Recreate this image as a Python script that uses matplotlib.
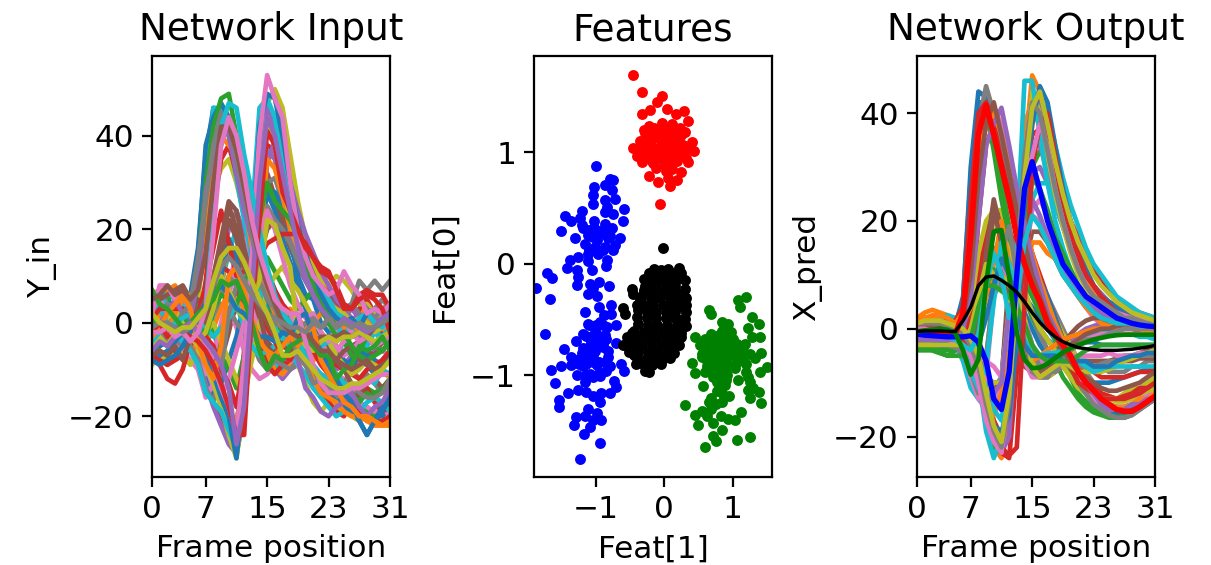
import matplotlib
matplotlib.use("Agg")
import matplotlib.pyplot as plt

plt.rcParams["axes.linewidth"] = 0.72

# Frame positions
frames = list(range(32))
frame_ticks = [0, 7, 15, 23, 31]

# Network input, the lines underneath
y_in_under = [
    [6,7,5,3,4,6,16,36,46,44,42,34,27,20,14,9,5,2,0,-3,-6,-10,-13,-14,-16,-17,-17,-19,-18,-20,-20,-18],
    [-8,-6,-9,-7,-5,-4,-6,-9,-13,-18,-23,-25,-12,14,35,42,44,38,29,22,17,12,9,7,5,3,4,2,3,1,3,2],
    [-1,3,5,6,3,2,6,18,32,38,44,40,33,26,18,11,7,3,0,-4,-7,-9,-12,-17,-19,-18,-16,-17,-19,-20,-19,-17],
    [0,-3,-5,-2,-3,-6,-8,-12,-17,-21,-25,-23,-6,20,33,38,37,31,25,20,15,13,10,8,4,1,-1,3,5,2,-1,-2],
    [3,-1,-3,-2,1,-2,-6,-2,5,13,20,24,19,10,1,-6,-10,-12,-10,-9,-6,-7,-5,-8,-10,-9,-7,-5,-8,-6,-4,-5],
    [-7,-5,-3,0,-2,-1,-4,-7,-11,-8,-2,5,12,20,28,32,27,21,16,12,9,6,3,2,-1,-3,-5,-4,-6,-7,-4,-2],
    [-5,-8,-7,-6,-4,-6,-9,-13,-10,-3,3,-1,-6,-10,-12,-11,-9,-11,-8,-7,-9,-7,-6,-9,-11,-12,-14,-17,-18,-19,-18,-20],
    [5,7,4,1,-1,-3,-5,-8,-10,-15,-20,-22,-9,8,24,30,31,26,22,18,13,7,5,3,0,2,4,2,0,3,5,3],
    [-9,-7,-8,-6,-4,-1,5,20,28,33,35,30,23,16,9,5,0,-4,-7,-9,-13,-17,-19,-17,-18,-19,-20,-21,-20,-21,-22,-21],
    [0,4,7,5,3,1,-1,-4,-2,8,15,20,14,7,0,-4,-9,-10,-9,-7,-4,-4,-7,-10,-7,-4,-2,-3,-5,-2,-4,-3],
    [2,0,-2,-4,-3,-4,-6,-11,-15,-13,-8,-3,4,10,20,27,28,25,18,10,6,5,0,-2,-5,-8,-10,-7,-9,-11,-8,-6],
    [6,7,7,8,5,3,0,1,2,8,18,12,5,2,-2,-7,-10,-11,-9,-8,-9,-8,-7,-6,-4,-2,-1,-3,-2,1,2,4],
    [-4,-6,-7,-5,-2,1,8,25,37,43,41,34,25,18,10,4,0,-2,-5,-6,-8,-10,-11,-12,-11,-13,-15,-16,-14,-15,-14,-12],
    [-3,-2,-5,-6,-4,0,3,5,8,12,11,8,6,3,-5,-9,-11,-9,-8,-5,-7,-11,-15,-17,-19,-20,-17,-15,-14,-17,-19,-18],
    [-6,-3,-2,-4,-5,-4,-7,-13,-18,-22,-26,-28,-20,4,26,37,35,28,19,13,9,6,3,2,-1,0,-1,-3,-2,0,-2,-3],
    [1,4,2,0,1,-2,-3,-5,-8,-6,0,3,6,9,14,20,22,23,20,17,14,12,8,6,3,0,-2,0,1,-1,-2,1],
    [-2,-4,-3,-5,-6,-8,-10,-16,-13,-4,9,14,18,10,2,-4,-6,-7,-8,-9,-7,-5,-6,-4,-5,-7,-6,-4,-3,-5,-6,-7],
    [4,2,0,-3,-5,-4,-2,0,2,4,3,0,-2,-4,-8,-10,-8,-9,-10,-8,-6,-10,-12,-14,-16,-13,-10,-12,-11,-13,-15,-13],
    [-3,1,3,4,2,0,-2,-6,-10,-14,-19,-26,-12,18,44,47,50,46,36,26,18,13,9,8,10,9,7,4,4,2,1,3],
    [2,5,4,3,4,3,10,30,46,46,40,31,22,14,7,2,-1,-4,-6,-9,-11,-14,-16,-18,-20,-19,-18,-19,-17,-16,-17,-19],
    [-1,-3,-1,2,3,1,-2,-5,3,10,18,14,10,16,24,28,24,18,13,8,3,-1,-4,-5,-7,-9,-8,-6,-7,-8,-9,-6],
    [-4,-5,-2,0,-2,-3,-7,-4,-1,3,7,5,3,-1,-4,-2,0,1,3,1,-1,0,2,1,0,-2,-1,1,2,0,-1,-3],
    [3,0,1,4,5,6,4,1,-2,-7,-10,-14,-7,2,10,14,11,8,5,3,5,7,4,2,0,-4,-7,-6,-3,-5,-6,-4],
    [-6,-8,-9,-8,-7,-5,-1,9,24,35,38,32,26,22,16,11,7,4,2,0,-3,-6,-8,-9,-9,-10,-11,-12,-10,-9,-8,-6],
    [1,-1,0,2,0,-1,-3,-6,-11,-16,-21,-24,-19,-2,18,34,39,36,30,24,19,15,11,8,5,3,1,1,0,-1,0,1],
    [-5,-2,0,-1,1,3,5,3,6,16,22,18,10,4,-1,-4,-6,-4,-2,0,-3,-5,-4,-6,-8,-10,-13,-15,-13,-12,-14,-12],
    [7,5,2,-1,-4,-6,-8,-11,-7,0,6,12,9,3,-2,-3,1,3,2,-1,-3,-2,-4,-7,-6,-4,-3,-1,0,-2,-1,0],
    [-2,2,4,1,-1,0,1,2,4,6,10,8,12,16,20,25,22,20,17,13,10,9,7,4,2,1,3,5,3,1,3,4],
    [0,-2,-4,-5,-7,-9,-6,-2,0,-4,-8,-12,-16,-8,0,7,10,12,9,7,4,1,-2,-4,-7,-9,-11,-10,-8,-9,-10,-12],
    [-1,1,-1,1,3,2,0,-1,-3,-1,1,4,-1,-5,-7,-6,-5,-3,-5,-6,-5,-6,-5,-4,-2,-1,-2,-1,1,-2,-3,-1],
]

# Network input, the lines on top
y_in = [
    [-3,-5,-4,-2,-1,4,14,38,44,47,44,36,27,18,11,5,2,-1,-3,-6,-9,-11,-13,-15,-17,-18,-19,-21,-24,-21,-18,-16],
    [1,2,-1,3,1,0,-2,-5,-9,-14,-19,-21,-13,4,16,35,33,27,20,16,12,8,6,3,1,-1,0,-2,1,-1,0,2],
    [-6,-4,-2,-3,-1,3,12,30,42,48,49,40,30,22,15,9,5,2,-1,-5,-8,-10,-12,-13,-14,-16,-15,-17,-15,-16,-14,-15],
    [-6,-9,-12,-13,-10,-4,2,8,16,24,17,10,11,6,2,-1,-4,-7,-8,-5,-3,-6,-9,-11,-13,-15,-17,-19,-21,-21,-21,-20],
    [-2,-1,3,2,0,-2,-4,-8,-12,-17,-22,-27,-15,10,38,46,42,33,25,18,13,10,6,5,3,2,3,1,2,0,1,0],
    [4,5,6,7,8,5,2,0,6,14,25,20,12,8,4,0,-3,-5,-6,-5,-2,-4,-7,-9,-8,-6,-5,-8,-9,-10,-9,-8],
    [-2,1,3,2,-1,-3,-5,-9,-14,-16,-12,-6,0,8,18,24,20,14,8,4,1,2,-2,-4,-1,1,-2,-4,-3,-5,-4,-3],
    [0,2,1,-2,-3,-5,-8,-14,-17,-10,2,8,10,8,5,2,0,-1,-1,-2,0,1,-1,0,2,3,4,9,7,9,7,9],
    [2,-1,1,3,0,-3,-5,-9,-13,-18,-24,-29,-17,6,30,44,38,30,22,16,12,8,6,4,3,2,0,1,0,-2,-1,1],
    [-1,3,0,-2,-4,-6,-9,-15,-17,-19,-23,-27,-10,22,46,48,44,34,24,17,14,10,7,5,2,1,-1,1,2,0,-1,1],
    [-5,-7,-6,-4,-2,-1,-3,-6,-11,-16,-20,-29,-14,16,42,49,48,40,30,21,15,9,6,3,1,0,1,-1,2,3,2,2],
    [3,1,-2,2,5,6,8,16,34,40,38,36,26,16,10,6,2,-1,-4,-6,-8,-12,-15,-16,-17,-19,-20,-20,-21,-22,-22,-21],
    [1,-2,-4,-1,2,-1,0,-3,3,6,5,4,8,12,22,30,26,24,22,18,12,8,3,0,-3,-2,-5,-7,-8,-7,-6,-4],
    [1,3,3,3,3,2,-2,-3,-5,-10,-13,-18,-8,6,14,17,18,19,19,19,17,14,11,10,8,4,3,6,7,6,6,3],
    [-4,0,2,5,2,1,9,28,36,42,40,32,24,18,12,8,4,0,-3,-8,-14,-16,-19,-20,-18,-17,-15,-18,-20,-18,-17,-14],
    [-7,-6,-7,-5,-8,-3,2,5,10,18,26,24,16,9,2,-5,-7,-8,-6,-4,-4,-4,-3,-3,-3,-2,-3,-2,-3,-1,0,2],
    [2,8,8,5,7,2,-2,-5,-9,-14,-18,-24,-8,15,40,53,48,44,30,20,14,10,8,6,7,11,8,6,2,3,2,4],
    [-3,-2,-4,-1,2,4,14,26,38,45,43,35,28,19,9,5,3,-1,-2,-7,-9,-13,-12,-15,-14,-15,-13,-15,-16,-16,-15,-12],
    [-5,-3,-5,-2,-1,-2,-4,-2,3,10,7,3,1,5,9,22,21,16,12,-3,-5,-6,-4,-3,-4,-3,-3,-2,-3,-4,-3,-2],
    [-4,-2,-1,0,1,2,-3,4,22,42,47,46,36,28,20,12,6,2,0,-4,-7,-9,-11,-12,-11,-13,-14,-13,-12,-13,-10,-11],
    [-8,-9,-8,-7,-5,-2,1,4,6,8,6,3,2,0,-3,-3,-4,-2,-3,1,2,-3,-6,-9,-12,-15,-17,-21,-24,-21,-19,-16],
    [-3,-1,2,4,6,3,-4,-9,-12,-5,10,12,7,1,-4,-6,-7,-5,-3,-5,-2,-1,-8,-11,-14,-17,-18,-20,-20,-21,-22,-22],
    [7,4,3,1,-1,0,2,3,5,9,8,9,5,0,-6,-10,-7,-8,-5,-4,-3,-5,-7,-7,-12,-10,-9,-5,-6,-5,-3,-6],
    [-2,0,-3,-1,-2,-3,-4,-6,-9,-13,-18,-24,-24,3,22,41,38,28,24,20,16,14,12,11,7,3,3,5,6,5,3,-2],
    [-6,-4,-5,-3,-1,0,-2,-4,-6,-9,-14,-26,-18,6,30,44,40,32,24,16,10,6,3,1,-1,1,0,-1,-2,-1,1,2],
    [5,6,8,6,7,5,7,15,30,42,42,37,29,21,14,8,4,0,-2,-3,-2,-4,-6,-6,-8,-9,-10,-9,-8,-10,-11,-11],
    [-2,-2,-1,-3,-2,-4,-2,3,19,38,44,40,32,22,15,10,5,3,2,2,-4,-9,-13,-15,-15,-15,-14,-14,-13,-12,-11,-11],
    [-1,0,0,-1,-2,-1,1,3,8,12,14,12,9,6,4,2,1,0,-1,-1,-2,0,-1,1,-1,0,-1,0,-1,-1,0,1],
    [2,0,-1,-2,-1,-1,1,3,9,14,16,16,13,9,5,2,-2,-7,-7,-6,-8,-10,-12,-13,-14,-14,-13,-13,-12,-11,-10,-8],
]

# Network output, the lines underneath
x_pred_under = [
    [1,1,1,0.5,0.5,0.5,6,28,42,42,37,31,26,21,16,12,8,4,1,-2,-5,-8,-10,-12,-13,-14,-14.5,-14.5,-14,-13.5,-13,-12],
    [0,0.5,0.5,0.5,0,-1,-2,-4,-8,-16,-22,-24,-16,14,38,42,38,31,25,20,16,13,10,8,6,5,4,3,2.5,2,1.5,1],
    [-2,-2,-2.5,-2.5,-3,-2.5,1,20,34,40,35,27,19,12,6,2,-1,-4,-6,-9,-11,-13,-14.5,-15.5,-16,-16.5,-16.5,-16,-15.5,-14.5,-13.5,-12],
    [-1,-1,-1,-1,-1.5,-1.5,-2,-3,-6,-12,-17,-20,-13,6,26,36,37,33,28,24,20,17,14,11,9,7,5.5,4.5,3.5,3,2.5,2],
    [0,0,0,0,-0.5,-1,-2,-4,-7,-10,-11,-9,-2,10,22,29,30,27,23,19,15,12,9,7,5,4,3,2.5,2,1.5,1,1],
    [1,1,1,0.5,0.5,0,-1,0,5,13,18,19,12,3,-5,-8,-9,-9,-8,-7,-6,-6,-6,-6,-6,-6,-5.5,-5,-5,-4.5,-4,-4],
    [-1,-1,-1,-1,-1.5,-2,-4,-9,-13,-15,-14,-10,4,16,19,21,20,18,15,12,9,6,4,2,1,0,-0.5,-1,-1,-1,-1,-1],
    [0.5,0.5,1,1,1,1,5,24,36,38,36,33,28,23,18,14,9,6,3,0,-3,-6,-8,-10,-12,-13,-13,-13,-12.5,-12,-11,-10],
    [2,2,2,2,1.5,1,0,2,7,14,20,22,17,9,1,-5,-8,-9,-8,-6,-4,-2.5,-1,0,0.5,1,1,1,0.5,0.5,0,0],
    [-2,-2,-2,-2,-2,-3,-6,-11,-13,-14,-12,-9,6,8,6,3,0,-2,-3,-3,-3,-2,-1.5,-1,-0.5,-0.5,-0.5,-1,-1,-1.5,-1.5,-2],
    [0,0,0,0,0,-0.5,-1,1,7,14,15,13,10,7,3,0,-3,-5,-6,-7,-8,-9,-9.5,-10,-10,-10,-9.5,-9,-8.5,-8,-7.5,-7],
    [1,2,2,2,1.5,1.5,4,20,36,42,40,35,28,21,15,10,6,2,-1,-3,-6,-8,-10,-11,-12,-12.5,-13,-13,-12.5,-12,-11,-10],
    [-3,-3,-3,-3,-3,-3,-4,-6,-10,-17,-22,-23,-18,-5,16,30,33,32,27,22,17,13,10,8,6,4,3,2.5,2,1.5,1,1],
    [-1,-1,-1,-1,-1,-1,0,3,10,18,22,21,18,15,12,9,6,3,0,-2,-4,-6,-7,-8,-9,-9,-9,-9,-8.5,-8,-8,-7.5],
    [0,0,0,-0.5,-1,-1.5,-3,-6,-8,-6,6,10,10,7,2,-3,-6,-7,-6,-4,-2,-1,0,0.5,1,1.5,1.5,1,1,0.5,0.5,0],
    [-1,-1,-1.5,-1.5,-2,-2,-3,-2,2,6,9,9,8,8,12,18,18,16,13,10,8,6,4,3,2,1,0.5,0,0,-0.5,-0.5,-0.5],
    [1,1,1,1,0.5,0.5,0,0,4,9,13,13,10,6,2,-3,-6,-7,-7,-6,-4,-3,-2,-1.5,-1,-1,-1,-1,-1,-1,-1,-1],
    [-2,-2,-2,-2,-2,-2,-2,-1,3,7,8,8,6,3,-1,-4,-7,-8,-8,-7,-6,-6,-6,-7,-7,-8,-8,-8,-7,-7,-6,-6],
    [-1,-0.5,0,0,0,0,4,22,36,41,41,35,29,23,17,12,8,5,2,-1,-3,-6,-9,-11,-12,-13,-13.5,-13.5,-13,-13,-12,-11],
    [0,0,0,0,-0.5,-1,-1.5,-3,-7,-13,-18,-22,-10,14,34,40,43,40,34,28,23,19,15,12,10,8,6,5,4,3,2.5,2],
    [-3,-3,-3,-3.5,-3.5,-3.5,-4,-6,-9,-10,-11,-10,7,8,6,4,2,0,-2,-3,-3,-3,-2.5,-2.5,-3,-3,-3,-3,-3,-3,-3,-3],
    [0.5,1,1,0.5,0.5,0,-2,-6,-11,-15,-16,-12,-5,4,10,16,16,14,13,11,8,6,4,2.5,1,0.5,0,0,0,0,0,0],
    [1,1,1,1,1,1,3,18,33,38,36,30,24,18,13,9,5,2,-2,-6,-9,-12,-13.5,-15,-15.5,-16,-16,-15.5,-15,-14,-13,-12],
    [-1,-1,-1,-1,-1,-1,-1,2,20,34,38,36,31,25,19,14,10,6,2,-2,-5,-7,-9,-10.5,-12,-12.5,-13,-13,-12.5,-12,-11,-10],
    [2,2,2,1.5,1,1,0,-2,-5,-9,-10,-10,4,12,22,34,34,29,24,20,16,13,11,8,6.5,5,4,3,2,2,1.5,1],
    [-1.5,-1.5,-1.5,-1.5,-1.5,-2,-3,-6,-10,-12,-11,-10,10,9,6,3,0,-2,-4,-5,-6,-6,-6,-6,-6,-6,-6,-6,-6,-5.5,-5.5,-5.5],
    [0,0,0,0,0,0,-0.5,-2,-4,-6,-7,-9,3,7,12,22,24,21,17,13,10,8,6,4.5,3,2,1.5,1,1,0.5,0.5,0.5],
    [-0.5,-0.5,-0.5,-0.5,-1,-1,-1.5,-3,-4,-5,6,10,13,11,7,3,-1,-4,-6,-7,-7,-7,-7,-7,-6.5,-6,-6,-5.5,-5,-5,-5,-5],
    [1,1.5,1.5,1,1,0.5,1,4,14,20,22,22,15,11,7,3,0,-2,-4,-7,-9,-11,-12,-13,-13,-13,-13,-12,-11,-11,-10,-9],
    [0,0,0,0,0,-0.5,-1,-3,-6,-11,-15,-17,-8,6,19,24,27,27,23,19,15,12,9,7,5,3.5,3,2,2,1.5,1,1],
]

# Network output, the lines above those
x_pred = [
    [1,1.5,1.5,1,0.5,1,5,30,44,43,38,33,28,23,18,13,9,6,2,-2,-6,-9,-11,-13,-14,-15,-15.5,-15.5,-15,-14.5,-14,-13],
    [2,3,3.5,3,2.5,1.5,0,-2,-6,-14,-19,-21,-18,8,32,47,44,36,28,21,16,12,9,7,5.5,4,3,2.5,2,1.5,1,0.8],
    [-3,-3.5,-4,-4.5,-5,-4,0,16,32,41,33,24,17,13,9,6,3,1,-1,-4,-7,-10,-12,-14,-15,-16,-16.5,-16.5,-16,-15,-14,-13],
    [-1,-0.5,0,0.5,0,-1,-3,-6,-9,-15,-20,-23,-24,-8,20,38,42,36,28,22,17,13,10,8,6,5,4,3,2.5,2,1.5,1],
    [0,0,0.5,0.5,0,-1,-2,-3,-6,-13,-20,-23,-20,2,30,44,41,33,26,20,15,11,8,6,4,3,2,1.5,1,0.5,0,0],
    [1,1.5,2,2,1.5,1,-1,-3,2,14,24,18,8,-2,-7,-8,-8,-7,-5,-3,-1,0.5,1.5,2,2,2,1.5,1.5,1,1,0.5,0.5],
    [-2,-2,-2,-2,-2.5,-2,1,14,30,38,41,38,30,24,18,12,7,3,0,-3,-6,-9,-11,-13,-14,-15,-15,-14.5,-14,-13,-12.5,-12],
    [0,0.5,0.5,0.5,0,0,3,22,38,45,40,32,25,19,13,9,6,2,-1,-4,-7,-10,-12,-14,-15,-16,-16.5,-16.5,-16,-15,-14,-13],
    [-1,-1,-1,-1.5,-2,-2,-3,-5,-8,-12,-10,-10,4,14,28,44,40,32,25,19,14,10,7.5,5.5,4,3,2.5,2,2,1.5,1,1],
    [1,1.5,2,2,2.5,2,-1,-4,-9,-19,-24,-20,-10,16,46,46,36,27,20,15,11,8,6,5,4,3,2.5,2,1.5,1,0.8,0.5],
    [-2,-2,-2,-2.5,-2.5,-2.5,-3,-5,-8,-14,-18,-19,-16,-2,24,38,45,42,34,26,20,15,11,8,6,5,4,3,2.5,2,1.5,1.5],
    [2,2,2,1.5,1,1,-1,-3,-1,6,12,20,12,4,-4,-6,-5,-4,-3,-2,-1.5,-1,-0.5,0,0,0.5,0.5,0.5,0,0,-0.5,-0.5],
    [-3,-3,-3.5,-4,-4,-4,-3,-1,3,8,11,10,8,6,14,28,26,22,17,14,11,8,6,5,4,3,2,2,1.5,1,1,1],
    [0,0.5,1,1,1,1.5,4,24,40,42,38,31,25,19,13,9,5,2,-1,-4,-7,-10,-11,-12,-13,-13,-13,-12.5,-12,-11,-11,-10],
    [-1.5,-1.5,-1.5,-2,-2,-3,-5,-7,-9,-14,-12,-10,4,6,14,24,21,17,14,11,9,7,5,4,3,2,2,1.5,1,1,0.5,0.5],
    [0,0,0.5,0.5,0,-0.5,-1.5,-3,1,10,22,16,8,2,-5,-8,-9,-8,-6,-4,-3,-2,-1,-0.5,0,0,0.5,0.5,1,1,1,1],
    [-2,-2,-2,-2,-2,-2.5,-4,-9,-13,-9,6,13,9,2,-6,-9,-9,-8,-7,-6,-5,-5,-5,-5,-5,-4.5,-5,-5,-5,-4.5,-4.5,-4],
    [-2.5,-2.5,-3,-3,-3,-3.5,-4,-8,-12,-6,8,14,19,10,0,-8,-9,-9,-7,-6,-4,-3,-2,-2,-1.5,-1,-0.5,0,0,0,0,0],
    [-3,-3,-3,-3,-3,-3,-3,0,6,12,10,10,8,6,2,-7,-9,-8,-7,-6,-7,-8,-8,-8,-8,-7.5,-7,-6,-5.5,-5,-4.5,-4],
    [-1,-1,-1,-1,-1,-1,-3,-8,-11,-7,5,16,12,5,-2,-5,-5,-4.5,-4.5,-4,-5,-6,-7,-8,-7.5,-7,-7,-7,-7,-7,-7,-7],
    [-1,-1,-1,-1,-1.5,-2,-3,-4,-3,2,8,13,10,4,-3,-5,-5,-5,-5,-6,-6,-6,-6,-7,-7,-7,-6,-5.5,-5,-5,-4.5,-4.5],
    [1.5,2,2.5,2.5,2,1,3,12,32,38,40,36,30,24,19,14,9,5,1,-2,-5,-8,-10,-12,-13,-14,-14.5,-14.5,-14,-13,-13,-12],
    [-4,-4,-4,-4.5,-5,-5,-5,-2,4,8,8,7,6,4,1,-3,-5,-6,-6,-6,-6,-5,-4,-3.5,-3,-3,-3,-3,-3,-3,-3,-3],
    [1,1,1,1,0.5,0,-2,-5,-9,-15,-19,-22,-23.5,-22,4,30,38,40,32,25,19,14,10,8,6,4.5,3,2.5,2,1.5,1.5,1],
    [-2,-2,-2,-2,-2,-2,0,6,20,34,38,41,34,26,19,13,8,3,0,-3,-5,-8,-10,-12,-14,-15,-15,-15,-14,-14,-13,-13],
    [0,0,0,0,0,0,2,10,28,38,42,36,29,22,16,10,6,2,-1,-4,-6,-8,-9,-10,-11,-11.5,-11.5,-11,-10.5,-10,-9,-8],
    [0,0,-0.5,-1,-1,-2,-3,-5,-10,-17,-21,-23,-12,10,28,32,38,34,26,20,15,11,8,6,4.5,3.5,3,2.5,2,2,1.5,1.5],
    [1,1,1,1,0.5,0,-1,-3,-7,-14,-19,-22,-14,12,32,42,40,33,26,20,15,11,8,6,5,4,3,2,2,1.5,1,1],
    [1,1.5,1.5,1.5,1,0.5,0,-2,-5,-12,-18,-21,-12,6,28,41,44,38,31,25,20,16,13,10,8,6.5,5,4,3,2.5,2,1.5],
    [-1,-1,-1,-1.5,-1.5,-2,-3,-4,-1,8,14,10,2,6,16,21,19,16,13,10,8,6,4.5,3,2,1.5,1,1,1,0.5,0.5,0.5],
]

# Network output, the four lines on top
pred_red = [-0.8,-0.5,-0.5,-0.7,-0.8,-1,3,17,36,41.5,36,30,24,17,12,8,5,1,-1,-3,-5,-8,-10,-11.5,-13,-14,-15,-15.3,-15.3,-14.5,-13.5,-12.5]
pred_blue = [-1,-1.2,-1.3,-1.4,-1.5,-1.5,-1.5,-1.3,-2.5,-6,-13,-15,-8,10,26,31,25.7,20,16,12,10,8,6,5,4,3,2,1.5,1,0.7,0.5,0.4]
pred_green = [-0.5,-0.3,-0.2,0,-0.2,-0.8,-4,-8.5,-5.7,8.5,18,18.3,9.7,-0.8,-5.7,-7.3,-7.2,-6.5,-5.4,-4.4,-3.6,-3,-2.5,-2,-1.7,-1.4,-1.2,-1.1,-1.1,-1.1,-1.1,-1.1]
pred_black = [-0.5,-0.4,-0.4,-0.4,-0.5,-0.5,1.5,4,8,9.6,9.8,9,8,6.8,5,3,1.2,-0.3,-1.5,-2.4,-3,-3.5,-3.7,-3.9,-4,-4,-4,-3.9,-3.8,-3.6,-3.4,-3.1]

# Features, one pair of lists per cluster
blue_x = [-1.00,-0.80,-0.75,-0.87,-1.03,-0.76,-1.05,-0.87,-0.72,-1.04,-0.84,-0.59,-1.20,-0.87,-0.75,-1.46,-1.23,-1.36,-1.03,-0.60,-0.87,-1.19,-1.03,-0.77,-1.51,-0.89,-1.11,-1.31,-0.65,-0.99,-0.82,-1.16,-0.72,-1.01,-0.87,-0.75,-1.11,-0.97,-1.26,-1.38,-1.11,-0.84,
          -1.43,-1.28,-1.06,-0.85,-1.72,-1.64,-1.26,-1.28,-0.96,-1.09,-0.81,-1.04,-1.11,-0.99,-1.88,-1.67,
          -0.96,-0.78,-1.16,-0.89,-0.78,-0.94,-1.11,-0.70,-0.84,-1.74,-1.02,-1.19,-0.87,-1.29,-1.08,-0.91,-0.71,-1.47,-1.19,-1.02,-0.82,-1.36,-1.11,-0.82,-0.63,-1.51,-1.66,-1.36,-1.19,-0.99,-0.80,-0.59,-1.28,-1.09,-0.94,-1.60,-0.74,-1.16,-0.71,-1.26,-1.14,-1.41,-0.93,-0.80,-1.04,-1.54,-0.94,-1.54,-1.11,-1.30,-0.98,-0.93,-1.16,-1.04,-1.32,-1.09,-1.18,-0.94,-1.23,
          -1.00,-1.10,-0.95,-1.05,-0.90,-1.15,-1.00,-1.25,-0.95,-1.05,
          -1.10,-1.00,-0.90,-1.15,-1.05,-0.95,-0.85,-1.20,-1.10,-1.00,-0.90,-1.25,-1.15,-1.05,-0.95,-0.85,-1.15,-1.05,-0.95,-0.85,-1.20,-1.10,-1.00,-0.90,-0.80,-1.10,-1.00,-0.90]
blue_y = [0.88,0.76,0.75,0.71,0.69,0.66,0.62,0.57,0.58,0.54,0.51,0.49,0.47,0.46,0.45,0.43,0.41,0.38,0.38,0.38,0.36,0.32,0.32,0.32,0.29,0.27,0.26,0.23,0.23,0.21,0.23,0.18,0.17,0.15,0.15,0.12,0.09,0.09,0.06,0.03,0.02,0.03,
          -0.04,-0.06,-0.06,-0.02,-0.08,-0.13,-0.12,-0.19,-0.16,-0.18,-0.20,-0.22,-0.27,-0.29,-0.22,-0.32,
          -0.39,-0.37,-0.43,-0.46,-0.45,-0.52,-0.54,-0.55,-0.57,-0.63,-0.61,-0.63,-0.64,-0.69,-0.70,-0.72,-0.71,-0.77,-0.76,-0.78,-0.78,-0.84,-0.85,-0.84,-0.90,-0.92,-0.95,-0.91,-0.92,-0.91,-0.92,-0.96,-1.00,-0.99,-1.01,-1.07,-1.05,-1.06,-1.11,-1.13,-1.15,-1.16,-1.16,-1.16,-1.19,-1.22,-1.24,-1.29,-1.30,-1.38,-1.34,-1.40,-1.37,-1.40,-1.45,-1.47,-1.53,-1.61,-1.75,
          -0.62,-0.66,-0.74,-0.82,-0.72,-0.80,-0.88,-0.86,0.28,0.24,
          -0.55,-0.55,-0.55,-0.65,-0.68,-0.68,-0.68,-0.80,-0.75,-0.75,-0.75,-0.90,-0.90,-0.88,-0.88,-0.88,-1.00,-1.02,-0.98,-0.96,0.35,0.30,0.30,0.30,0.25,0.12,0.12,0.12]
red_x = [-0.46,-0.32,-0.03,-0.10,0.04,-0.21,-0.33,0.29,0.17,0.35,-0.23,-0.04,0.11,0.23,-0.28,-0.14,0.01,0.25,-0.36,-0.19,-0.04,0.11,0.40,-0.46,-0.33,-0.16,-0.01,0.16,0.30,0.44,-0.40,-0.26,-0.09,0.08,0.25,-0.32,-0.16,0.01,0.18,0.34,0.03,-0.22,0.25,-0.09,0.06,0.18,0.08,-0.06,
         -0.25,-0.10,0.05,0.18,-0.20,-0.05,0.12,0.28,-0.28,-0.12,0.03,0.20,-0.20,-0.02,0.14,
         -0.30,-0.15,0.00,0.15,0.30,-0.25,-0.08,0.08,0.22,0.38,-0.35,-0.18,0.00,0.16,0.32,-0.12,0.04,0.12]
red_y = [1.69,1.54,1.51,1.45,1.39,1.38,1.34,1.37,1.34,1.28,1.24,1.26,1.25,1.22,1.17,1.19,1.17,1.16,1.10,1.11,1.10,1.11,1.09,1.04,1.04,1.04,1.02,1.04,1.02,1.01,0.97,0.96,0.96,0.96,0.98,0.91,0.90,0.89,0.92,0.91,0.83,0.79,0.82,0.73,0.77,0.75,0.70,0.54,
         1.15,1.14,1.14,1.13,1.07,1.07,1.07,1.07,1.00,1.00,1.00,1.00,0.93,0.93,0.93,
         1.20,1.22,1.22,1.20,1.18,1.12,1.14,1.18,1.10,1.04,1.00,0.98,1.05,0.98,0.95,0.86,0.92,0.85]
black_x = [-0.02,0.22,0.06,-0.05,-0.12,0.10,0.24,-0.20,-0.05,0.10,0.20,-0.25,-0.12,0.02,0.15,0.31,-0.47,-0.30,-0.18,-0.04,0.10,0.23,-0.46,-0.34,-0.20,-0.06,0.08,0.20,0.32,
           -0.30,-0.16,-0.02,0.12,0.25,-0.61,-0.38,-0.26,-0.12,0.02,0.16,0.32,-0.57,-0.40,-0.26,-0.12,0.02,0.16,0.28,-0.38,-0.24,-0.10,0.04,0.18,0.32,
           -0.45,-0.30,-0.16,-0.02,0.12,0.24,-0.54,-0.40,-0.26,-0.12,0.02,0.16,0.24,-0.60,-0.46,-0.32,-0.18,-0.04,0.10,0.22,
           -0.52,-0.38,-0.24,-0.10,0.04,0.14,-0.40,-0.26,-0.12,0.00,0.08,-0.42,-0.30,-0.18,-0.05,-0.28,-0.22,
           -0.08,0.05,-0.20,0.15,-0.35,-0.30,-0.20,-0.40,-0.48,-0.50,-0.55,-0.35,-0.45,
           -0.30,-0.22,-0.28,-0.15,0.30,0.30,0.32,0.30]
black_y = [0.14,-0.04,-0.05,-0.06,-0.10,-0.08,-0.08,-0.12,-0.14,-0.14,-0.14,-0.18,-0.19,-0.19,-0.20,-0.23,-0.23,-0.24,-0.25,-0.25,-0.26,-0.27,-0.27,-0.30,-0.31,-0.31,-0.31,-0.32,-0.31,
           -0.37,-0.37,-0.37,-0.37,-0.38,-0.40,-0.42,-0.43,-0.43,-0.43,-0.43,-0.43,-0.45,-0.48,-0.49,-0.49,-0.49,-0.49,-0.50,-0.54,-0.55,-0.55,-0.55,-0.55,-0.56,
           -0.60,-0.61,-0.61,-0.61,-0.61,-0.62,-0.66,-0.67,-0.67,-0.67,-0.67,-0.67,-0.66,-0.73,-0.73,-0.73,-0.73,-0.73,-0.73,-0.73,
           -0.79,-0.79,-0.79,-0.79,-0.79,-0.80,-0.85,-0.85,-0.85,-0.85,-0.85,-0.90,-0.91,-0.91,-0.90,-0.96,-0.97,
           -0.09,-0.11,-0.17,-0.26,-0.33,-0.25,-0.45,-0.37,-0.62,-0.70,-0.74,-0.87,-0.82,
           -0.14,-0.08,-0.20,-0.05,-0.15,-0.30,-0.37,-0.50]
green_x = [1.08,1.20,1.11,0.65,0.68,1.28,1.38,0.84,0.94,1.22,0.45,1.40,1.28,0.69,0.84,0.98,0.52,0.64,0.77,0.91,1.06,1.18,1.42,0.55,0.69,0.84,0.99,1.13,1.25,1.33,0.41,0.62,0.77,0.91,1.06,1.20,1.51,1.60,0.45,0.60,0.74,0.89,1.03,1.20,1.40,1.08,0.57,0.77,0.89,1.25,0.77,1.23,1.38,0.95,0.69,1.25,0.84,1.41,0.30,0.69,0.55,0.45,1.13,0.83,0.62,0.93,1.03,0.50,0.72,0.84,0.71,0.75,1.06,1.26,0.60,
           0.70,0.80,0.90,0.75,0.85,0.95,0.70,0.80,0.90,0.82,0.92,0.72,
           0.60,0.70,0.80,0.90,1.00,0.65,0.75,0.85,0.95,1.05,1.15,0.55,0.65,0.75,0.85,0.95,1.05,1.15,0.62,0.72,0.82,0.92,1.02,0.80,0.90,0.85,1.30,1.22,0.75,0.65]
green_y = [-0.33,-0.30,-0.39,-0.42,-0.45,-0.48,-0.54,-0.52,-0.54,-0.58,-0.66,-0.66,-0.66,-0.63,-0.60,-0.61,-0.73,-0.70,-0.69,-0.69,-0.72,-0.72,-0.80,-0.81,-0.79,-0.78,-0.79,-0.82,-0.81,-0.85,-0.89,-0.87,-0.87,-0.87,-0.88,-0.90,-0.93,-0.94,-0.98,-0.97,-0.95,-0.95,-0.94,-0.97,-0.97,-1.04,-1.10,-1.06,-1.09,-1.06,-1.14,-1.13,-1.15,-1.19,-1.21,-1.21,-1.24,-1.25,-1.27,-1.30,-1.32,-1.36,-1.33,-1.37,-1.37,-1.39,-1.40,-1.45,-1.43,-1.49,-1.55,-1.59,-1.58,-1.56,-1.65,
           -0.74,-0.74,-0.74,-0.82,-0.82,-0.82,-0.90,-0.92,-0.92,-1.00,-1.00,-1.02,
           -0.68,-0.66,-0.64,-0.66,-0.68,-0.76,-0.74,-0.74,-0.74,-0.76,-0.78,-0.84,-0.82,-0.82,-0.82,-0.82,-0.84,-0.86,-0.92,-0.92,-0.92,-0.92,-0.92,-1.08,-1.04,-1.16,-1.12,-1.02,-1.26,-1.24]

DPI = 224
W, H = 1211, 565
fig = plt.figure(figsize=(W / DPI, H / DPI), dpi=DPI)


def panel(left):
    ax = fig.add_axes([left / W, 1 - 477 / H, 238 / W, 421 / H])
    ax.tick_params(length=3.1, width=0.72, pad=2.7)
    return ax


# Left panel
ax1 = panel(152)
for line in y_in_under + y_in:
    ax1.plot(frames, line)
ax1.set_xlim(0, 31)
ax1.set_ylim(-33, 57.1)
ax1.set_xticks(frame_ticks)
ax1.set_yticks([-20, 0, 20, 40])
ax1.set_title("Network Input", fontsize=12, pad=5)
ax1.set_xlabel("Frame position", labelpad=3.3)
ax1.set_ylabel("Y_in", labelpad=3.5)

# Middle panel
ax2 = panel(534)
ax2.plot(blue_x, blue_y, "b.", ms=5)
ax2.plot(red_x, red_y, "r.", ms=5)
ax2.plot(black_x, black_y, "k.", ms=5)
ax2.plot(green_x, green_y, ".", color="green", ms=5)
ax2.set_xlim(-1.908, 1.577)
ax2.set_ylim(-1.915, 1.865)
ax2.set_xticks([-1, 0, 1])
ax2.set_yticks([-1, 0, 1])
ax2.set_title("Features", fontsize=12, pad=5)
ax2.set_xlabel("Feat[1]", labelpad=3.3)
ax2.set_ylabel("Feat[0]", labelpad=3.5)

# Right panel
ax3 = panel(917)
for line in x_pred_under + x_pred:
    ax3.plot(frames, line)
ax3.plot(frames, pred_red, "r", lw=1.8)
ax3.plot(frames, pred_blue, "b", lw=1.7)
ax3.plot(frames, pred_green, color="green", lw=1.5)
ax3.plot(frames, pred_black, "k", lw=1.1)
ax3.set_xlim(0, 31)
ax3.set_ylim(-27.5, 50.6)
ax3.set_xticks(frame_ticks)
ax3.set_yticks([-20, 0, 20, 40])
ax3.set_title("Network Output", fontsize=12, pad=5)
ax3.set_xlabel("Frame position", labelpad=3.3)
ax3.set_ylabel("X_pred", labelpad=3.5)

fig.savefig("out.png", dpi=DPI)
